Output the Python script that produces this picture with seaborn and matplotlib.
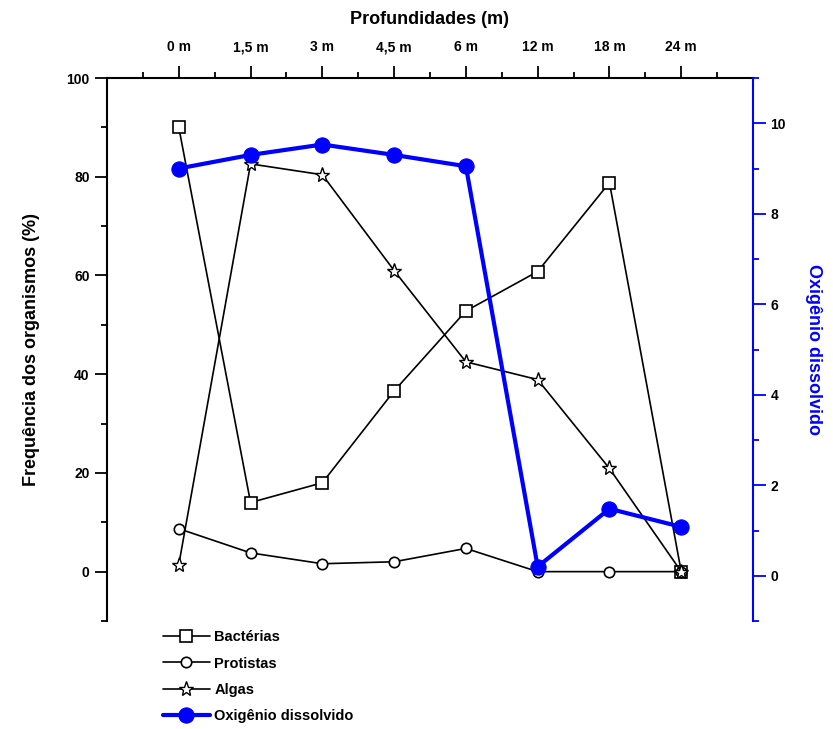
import numpy as np
import pandas as pd
import matplotlib
matplotlib.use('Agg')
import matplotlib.pyplot as plt
import seaborn as sns
from matplotlib.ticker import MultipleLocator

# Dados
profundidades = ['0 m', '1,5 m', '3 m', '4,5 m', '6 m', '12 m', '18 m', '24 m']
bacterias = [90, 14, 18, 36.6, 52.8, 60.8, 78.8, 0]
protistas = [8.7, 3.8, 1.6, 2.0, 4.7, 0, 0, 0]
algas = [1.4, 82.6, 80.4, 61, 42.5, 38.9, 20.9, 0]
oxigenio = [9.0, 9.3, 9.53, 9.3, 9.05, 0.2, 1.48, 1.08]

sns.set_style('ticks')
plt.rcParams['font.family'] = ['Liberation Sans', 'DejaVu Sans']
plt.rcParams['font.weight'] = 'bold'
plt.rcParams['text.color'] = 'black'
plt.rcParams['axes.labelcolor'] = 'black'
plt.rcParams['xtick.color'] = 'black'
plt.rcParams['ytick.color'] = 'black'

pos = np.arange(len(profundidades))

fig = plt.figure(figsize=(8.33, 7.29), dpi=100)
ax = fig.add_axes([107/833, 1 - 621/729, (753 - 107)/833, (621 - 78)/729])
ax2 = ax.twinx()

sns.lineplot(x=pos, y=bacterias, ax=ax, color='black', lw=1.2, marker='s',
             markersize=8, markerfacecolor='white', markeredgecolor='black',
             markeredgewidth=1.2, label='Bactérias', legend=False)
sns.lineplot(x=pos, y=protistas, ax=ax, color='black', lw=1.2, marker='o',
             markersize=7.5, markerfacecolor='white', markeredgecolor='black',
             markeredgewidth=1.2, label='Protistas', legend=False)
sns.lineplot(x=pos, y=algas, ax=ax, color='black', lw=1.2, marker='*',
             markersize=11, markerfacecolor='white', markeredgecolor='black',
             markeredgewidth=1.0, label='Algas', legend=False)
sns.lineplot(x=pos, y=oxigenio, ax=ax2, color='blue', lw=3, marker='o',
             markersize=11, markerfacecolor='blue', markeredgecolor='blue',
             label='Oxigênio dissolvido', legend=False)

# eixo x no topo
ax.set_xlim(-1, 8)
ax.xaxis.tick_top()
ax.xaxis.set_label_position('top')
ax.set_xticks(pos)
ax.set_xticklabels(profundidades, fontsize=10, fontweight='bold')
ax.set_xticks(np.arange(-0.5, 8, 1), minor=True)
ax.set_xlabel('Profundidades (m)', fontsize=13, fontweight='bold', labelpad=12)

ax.set_ylim(-10, 100)
ax.yaxis.set_major_locator(MultipleLocator(20))
ax.yaxis.set_minor_locator(MultipleLocator(10))
ax.set_ylabel('Frequência dos organismos (%)', fontsize=13, fontweight='bold', labelpad=19)
for lab in ax.get_yticklabels():
    lab.set_fontweight('bold')
    lab.set_fontsize(10)

ax2.set_ylim(-1, 11)
ax2.yaxis.set_major_locator(MultipleLocator(2))
ax2.yaxis.set_minor_locator(MultipleLocator(1))
ax2.set_ylabel('Oxigênio dissolvido', fontsize=13, fontweight='bold', color='blue',
               rotation=270, labelpad=26)
for lab in ax2.get_yticklabels():
    lab.set_fontweight('bold')
    lab.set_fontsize(10)

for a in (ax, ax2):
    a.spines['bottom'].set_visible(False)
    a.tick_params(axis='x', which='both', bottom=False, top=True)
ax.spines['right'].set_visible(False)
ax2.spines['left'].set_visible(False)
ax2.spines['top'].set_visible(False)
ax.spines['left'].set_linewidth(1.5)
ax.spines['top'].set_linewidth(1.5)
ax.spines['left'].set_color('black')
ax.spines['top'].set_color('black')
ax2.spines['right'].set_linewidth(1.5)
ax2.spines['right'].set_color('blue')

ax.tick_params(which='major', length=9, width=1.3, colors='black', direction='out')
ax.tick_params(which='minor', length=4, width=1.3, direction='out')
ax.tick_params(axis='x', which='major', pad=8)
ax.tick_params(axis='x', which='both', labeltop=True, labelbottom=False)
ax2.tick_params(axis='y', which='major', length=9, width=1.3, colors='blue',
                labelcolor='black', direction='out')
ax2.tick_params(axis='y', which='minor', length=4, width=1.3, colors='blue', direction='out')

h1, l1 = ax.get_legend_handles_labels()
h2, l2 = ax2.get_legend_handles_labels()
leg = fig.legend(h1 + h2, l1 + l2, loc='upper left',
                 bbox_to_anchor=(150/833, 1 - 617/729), frameon=False,
                 handlelength=3.2, handletextpad=0.3, labelspacing=0.85,
                 prop={'weight': 'bold', 'size': 10.5})

fig.savefig('out.png', dpi=100)
